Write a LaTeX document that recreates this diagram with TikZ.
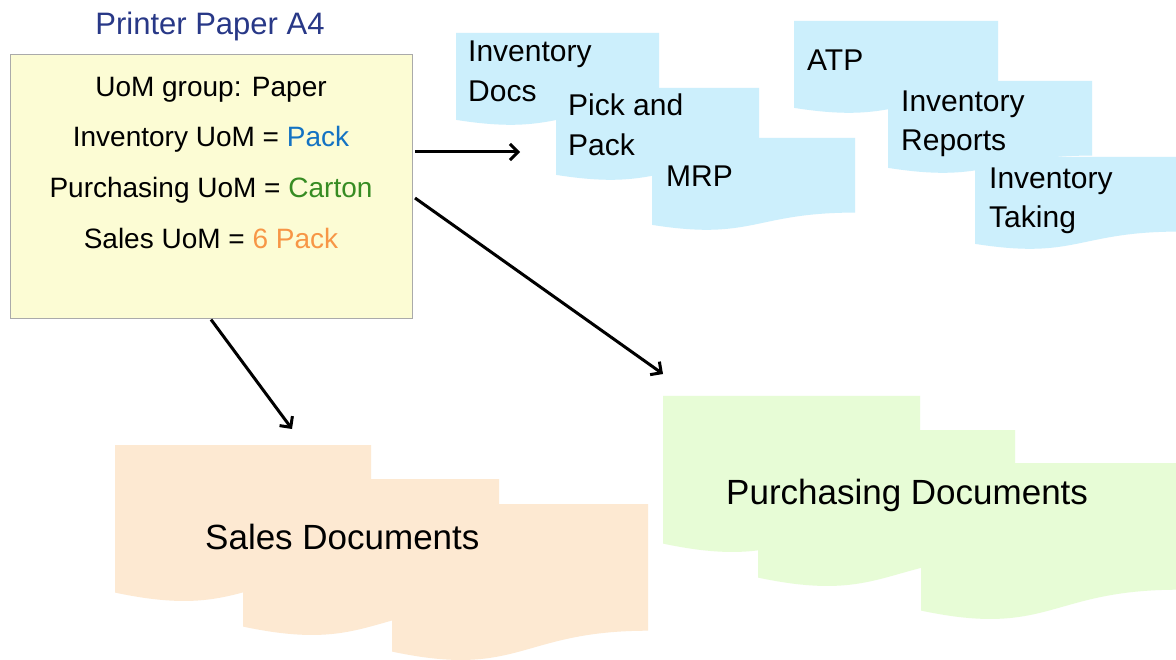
\documentclass[tikz,border=0pt]{standalone}
\usepackage{fontspec}
\setmainfont{Liberation Sans}
\usetikzlibrary{arrows.meta}
\definecolor{docblue}{RGB}{204,239,252}
\definecolor{docorange}{RGB}{253,233,210}
\definecolor{docgreen}{RGB}{231,252,214}
\definecolor{boxfill}{RGB}{252,252,212}
\definecolor{boxline}{RGB}{170,170,170}
\definecolor{titleblue}{RGB}{40,56,135}
\definecolor{packblue}{RGB}{20,115,195}
\definecolor{cartongreen}{RGB}{55,140,35}
\definecolor{sixorange}{RGB}{247,150,70}
% document shape: x, y (top-left, downward), width, height, colour
\newcommand{\docshape}[5]{%
  \fill[#5] (#1,#2) -- (#1+#3,#2) -- (#1+#3,#2+0.802*#4)
    .. controls (#1+0.5*#3,#2+0.802*#4) and (#1+0.5*#3,#2+1.107*#4) .. (#1,#2+0.934*#4) -- cycle;}
\tikzset{
  boxtxt/.style={anchor=base, inner sep=0pt, font=\fontsize{28}{34}\selectfont},
  doctxt/.style={anchor=base west, inner sep=0pt, font=\fontsize{30}{36}\selectfont},
  bigtxt/.style={anchor=base west, inner sep=0pt, font=\fontsize{35}{42}\selectfont},
  arr/.style={line width=3pt, -{Straight Barb[length=8pt,width=16pt]}},
}
\begin{document}
\begin{tikzpicture}[x=1pt,y=-1pt]
\useasboundingbox (0,0) rectangle (1176,660);
\fill[white] (0,0) rectangle (1176,660);

% blue documents
\docshape{456}{33}{203}{93}{docblue}
\docshape{556}{88}{203}{93}{docblue}
\docshape{652}{138}{203}{93}{docblue}
\docshape{794}{21}{204}{93}{docblue}
\docshape{888}{81}{204}{93}{docblue}
\docshape{975}{157}{204}{93}{docblue}
\node[doctxt] (invdocsA) at (468,62) {Inventory};
\node[doctxt] (invdocsB) at (468,102) {Docs};
\node[doctxt] (pickA) at (568,116) {Pick and};
\node[doctxt] (pickB) at (568,156) {Pack};
\node[doctxt] (mrp) at (666,187) {MRP};
\node[doctxt] (atp) at (807,71) {ATP};
\node[doctxt] (reportsA) at (901,112) {Inventory};
\node[doctxt] (reportsB) at (901,151) {Reports};
\node[doctxt] (takingA) at (989,189) {Inventory};
\node[doctxt] (takingB) at (989,228) {Taking};

% sales documents
\docshape{115}{445}{256}{158}{docorange}
\docshape{243}{479}{256}{158}{docorange}
\docshape{392}{504}{256}{158}{docorange}
\node[bigtxt] (sales) at (205,549) {Sales Documents};

% purchasing documents
\docshape{663}{396}{257}{158}{docgreen}
\docshape{758}{430}{257}{158}{docgreen}
\docshape{921}{463}{257}{158}{docgreen}
\node[bigtxt] (purch) at (726,504) {Purchasing Documents};

% material box
\node[anchor=base, inner sep=0pt, text=titleblue, font=\fontsize{31}{37}\selectfont] (title) at (210,35) {Printer Paper A4};
\node[draw=boxline, line width=1pt, fill=boxfill, minimum width=402pt, minimum height=264pt, inner sep=0pt] (box) at (211,187) {};
\node[boxtxt] (l1) at (211,97) {UoM group: Paper};
\node[boxtxt] (l2) at (211,147) {Inventory UoM = \textcolor{packblue}{Pack}};
\node[boxtxt] (l3) at (211,198) {Purchasing UoM = \textcolor{cartongreen}{Carton}};
\node[boxtxt] (l4) at (211,249) {Sales UoM = \textcolor{sixorange}{6 Pack}};

% arrows
\coordinate (s1) at (415,152);
\coordinate (t1) at (520,152);
\coordinate (s2) at (415,198);
\coordinate (t2) at (663,374);
\coordinate (t3) at (292,429);
\draw[arr] (s1) -- (t1);
\draw[arr] (s2) -- (t2);
\draw[arr] (box.south) -- (t3);
\end{tikzpicture}
\end{document}
